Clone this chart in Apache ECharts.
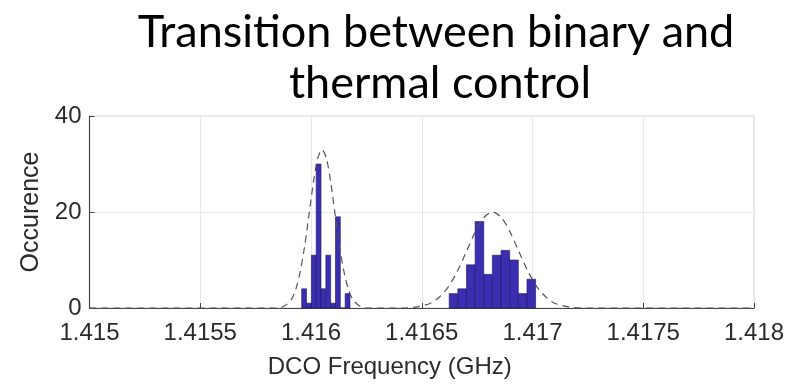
<!DOCTYPE html>
<html>
<head>
<meta charset="utf-8">
<script src="https://cdn.jsdelivr.net/npm/echarts@6/dist/echarts.min.js"></script>
<style>
  html, body { margin: 0; padding: 0; background: #fff; }
  #chart { width: 792px; height: 387px; }
</style>
</head>
<body>
<div id="chart"></div>
<script>
// histogram of the binary-controlled part (narrow bins)
const binaryStart = 1.415958
const binaryWidth = 0.0000218
const binaryCounts = [4, 1, 11, 30, 4, 11, 1, 19, 0, 3]

// histogram of the thermal-controlled part (wider bins)
const thermalStart = 1.416624
const thermalWidth = 0.000039
const thermalCounts = [3, 4, 9, 18, 7, 11, 12, 10, 3, 6]

// dashed fit curve
const fitX = [1.415, 1.41585, 1.41588, 1.41591, 1.41593, 1.41595, 1.41597, 1.41599, 1.41601, 1.41603,
  1.41605, 1.41607, 1.41609, 1.41611, 1.41613, 1.41615, 1.41617, 1.41619, 1.41622, 1.41625,
  1.41642, 1.41648, 1.41654, 1.41658, 1.41662, 1.41666, 1.4167, 1.41674, 1.41678, 1.41682,
  1.41686, 1.4169, 1.41694, 1.41698, 1.41702, 1.41706, 1.4171, 1.41716, 1.41722, 1.418]
const fitY = [0, 0, 0.4, 1.7, 3.7, 7.3, 12.5, 19.1, 25.9, 31.1,
  33, 31.1, 25.9, 19.1, 12.5, 7.3, 3.7, 1.7, 0.4, 0,
  0, 0.25, 1.0, 2.3, 4.4, 7.6, 11.6, 15.7, 18.8, 20,
  18.8, 15.7, 11.6, 7.6, 4.4, 2.3, 1.0, 0.25, 0, 0]

const xTicks = [1.415, 1.4155, 1.416, 1.4165, 1.417, 1.4175, 1.418]
const yTicks = [0, 20, 40]

function bins(start, width, counts) {
  return counts.map((c, i) => [start + i * width, start + (i + 1) * width, c])
}

const myChart = echarts.init(document.getElementById('chart'))

const barStyle = { fill: '#3b2eb0', stroke: '#1d1760', lineWidth: 0.6 }
function renderBin(params, api) {
  const p0 = api.coord([api.value(0), 0])
  const p1 = api.coord([api.value(1), api.value(2)])
  return {
    type: 'rect',
    shape: { x: p0[0], y: p1[1], width: p1[0] - p0[0], height: p0[1] - p1[1] },
    style: barStyle
  }
}

const axisText = { fontFamily: 'Liberation Sans', color: '#2b2b2b' }
const titleText = { fontFamily: 'Lato', fontSize: 45, fontWeight: 'normal', color: '#000' }

myChart.setOption({
  animation: false,
  title: [
    { text: 'Transition between binary and', left: 431, top: 5, textAlign: 'center', textStyle: titleText },
    { text: 'thermal control', left: 435, top: 56, textAlign: 'center', textStyle: titleText }
  ],
  grid: {
    left: 89.5, right: 38, top: 116, bottom: 79,
    show: true, borderColor: '#d4d4d4', borderWidth: 1
  },
  xAxis: {
    type: 'value',
    min: xTicks[0],
    max: xTicks[xTicks.length - 1],
    interval: 0.0005,
    name: 'DCO Frequency (GHz)',
    nameLocation: 'middle',
    nameGap: 47,
    nameTextStyle: Object.assign({ fontSize: 24, padding: [0, 64, 0, 0] }, axisText),
    axisLine: { lineStyle: { color: '#444', width: 1.2 } },
    axisTick: { inside: true, length: 5, lineStyle: { color: '#444' } },
    axisLabel: Object.assign({
      fontSize: 24, margin: 13,
      formatter: v => String(parseFloat(v.toFixed(4)))
    }, axisText),
    splitLine: { lineStyle: { color: '#e8e8e8' } }
  },
  yAxis: {
    type: 'value',
    min: yTicks[0],
    max: yTicks[yTicks.length - 1],
    interval: 20,
    name: 'Occurence',
    nameLocation: 'middle',
    nameGap: 44,
    nameTextStyle: Object.assign({ fontSize: 25 }, axisText),
    axisLine: { show: true, lineStyle: { color: '#444', width: 1.2 } },
    axisTick: { show: true, inside: true, length: 5, lineStyle: { color: '#444' } },
    axisLabel: Object.assign({ fontSize: 24, margin: 8 }, axisText),
    splitLine: { lineStyle: { color: '#e8e8e8' } }
  },
  series: [
    {
      type: 'custom',
      renderItem: renderBin,
      data: bins(binaryStart, binaryWidth, binaryCounts),
      encode: { x: [0, 1], y: 2 }
    },
    {
      type: 'custom',
      renderItem: renderBin,
      data: bins(thermalStart, thermalWidth, thermalCounts),
      encode: { x: [0, 1], y: 2 }
    },
    {
      type: 'line',
      data: fitX.map((x, i) => [x, fitY[i]]),
      smooth: 0.3,
      showSymbol: false,
      lineStyle: { color: '#555', width: 1.2, type: [7, 5] },
      z: 5
    }
  ]
})
</script>
</body>
</html>
